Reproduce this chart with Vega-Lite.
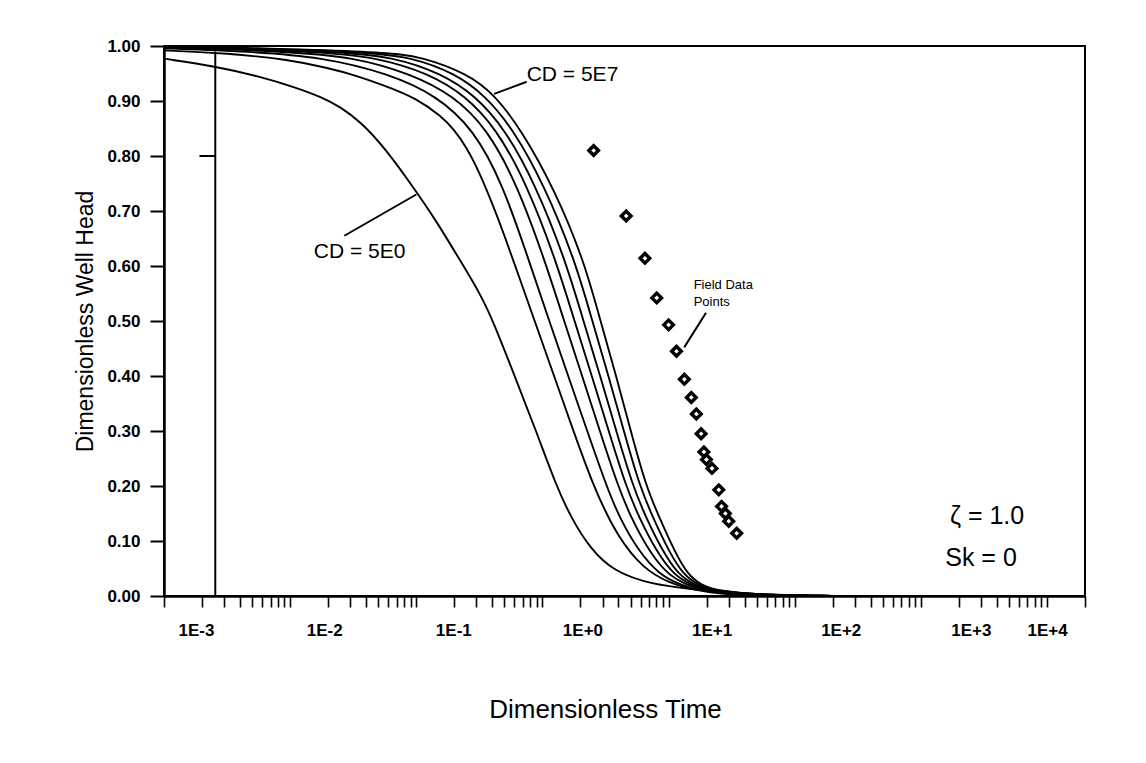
{
  "$schema": "https://vega.github.io/schema/vega-lite/v6.json",
  "width": 921,
  "height": 550,
  "autosize": {"type": "none"},
  "padding": {"left": 164, "top": 46, "right": 61, "bottom": 167},
  "background": "white",
  "config": {
    "view": {"stroke": "black", "strokeWidth": 2},
    "font": "Liberation Sans",
    "text": {"font": "Liberation Sans", "color": "black"}
  },
  "datasets": {
    "curves": [
      {"cd": "5E0", "t": 0.001, "h": 0.977}, {"cd": "5E0", "t": 0.00257, "h": 0.963}, {"cd": "5E0", "t": 0.005623, "h": 0.945}, {"cd": "5E0", "t": 0.01096, "h": 0.925}, {"cd": "5E0", "t": 0.01778, "h": 0.907}, {"cd": "5E0", "t": 0.02512, "h": 0.889}, {"cd": "5E0", "t": 0.03631, "h": 0.862}, {"cd": "5E0", "t": 0.05623, "h": 0.815}, {"cd": "5E0", "t": 0.0955, "h": 0.742}, {"cd": "5E0", "t": 0.1413, "h": 0.685}, {"cd": "5E0", "t": 0.2188, "h": 0.613}, {"cd": "5E0", "t": 0.3162, "h": 0.552}, {"cd": "5E0", "t": 0.3981, "h": 0.505}, {"cd": "5E0", "t": 0.6026, "h": 0.4}, {"cd": "5E0", "t": 0.8913, "h": 0.3}, {"cd": "5E0", "t": 1.288, "h": 0.2}, {"cd": "5E0", "t": 1.698, "h": 0.141}, {"cd": "5E0", "t": 2.399, "h": 0.086}, {"cd": "5E0", "t": 3.631, "h": 0.045}, {"cd": "5E0", "t": 7.499, "h": 0.02}, {"cd": "5E0", "t": 16.6, "h": 0.012}, {"cd": "5E0", "t": 33.88, "h": 0.003}, {"cd": "5E0", "t": 100, "h": 0},
      {"cd": "5E1", "t": 0.001, "h": 0.992}, {"cd": "5E1", "t": 0.003162, "h": 0.987}, {"cd": "5E1", "t": 0.01, "h": 0.975}, {"cd": "5E1", "t": 0.01995, "h": 0.96}, {"cd": "5E1", "t": 0.03162, "h": 0.948}, {"cd": "5E1", "t": 0.05623, "h": 0.928}, {"cd": "5E1", "t": 0.1, "h": 0.905}, {"cd": "5E1", "t": 0.1585, "h": 0.872}, {"cd": "5E1", "t": 0.1995, "h": 0.848}, {"cd": "5E1", "t": 0.2512, "h": 0.815}, {"cd": "5E1", "t": 0.3162, "h": 0.77}, {"cd": "5E1", "t": 0.3981, "h": 0.715}, {"cd": "5E1", "t": 0.5012, "h": 0.655}, {"cd": "5E1", "t": 0.631, "h": 0.59}, {"cd": "5E1", "t": 1, "h": 0.46}, {"cd": "5E1", "t": 1.585, "h": 0.33}, {"cd": "5E1", "t": 2.512, "h": 0.2}, {"cd": "5E1", "t": 3.981, "h": 0.105}, {"cd": "5E1", "t": 6.31, "h": 0.05}, {"cd": "5E1", "t": 10, "h": 0.024}, {"cd": "5E1", "t": 15.85, "h": 0.011}, {"cd": "5E1", "t": 25.12, "h": 0.004}, {"cd": "5E1", "t": 50.12, "h": 0.001}, {"cd": "5E1", "t": 125.9, "h": 0},
      {"cd": "5E2", "t": 0.001, "h": 0.996}, {"cd": "5E2", "t": 0.004786, "h": 0.99}, {"cd": "5E2", "t": 0.01778, "h": 0.98}, {"cd": "5E2", "t": 0.06026, "h": 0.95}, {"cd": "5E2", "t": 0.1445, "h": 0.91}, {"cd": "5E2", "t": 0.2818, "h": 0.85}, {"cd": "5E2", "t": 0.4831, "h": 0.75}, {"cd": "5E2", "t": 0.778, "h": 0.611}, {"cd": "5E2", "t": 1.132, "h": 0.5}, {"cd": "5E2", "t": 1.6, "h": 0.4}, {"cd": "5E2", "t": 2.265, "h": 0.3}, {"cd": "5E2", "t": 3.214, "h": 0.2}, {"cd": "5E2", "t": 4.102, "h": 0.141}, {"cd": "5E2", "t": 5.848, "h": 0.08}, {"cd": "5E2", "t": 8.356, "h": 0.04}, {"cd": "5E2", "t": 12.3, "h": 0.02}, {"cd": "5E2", "t": 19.95, "h": 0.008}, {"cd": "5E2", "t": 44.67, "h": 0.002}, {"cd": "5E2", "t": 199.5, "h": 0},
      {"cd": "5E3", "t": 0.001, "h": 0.998}, {"cd": "5E3", "t": 0.009772, "h": 0.99}, {"cd": "5E3", "t": 0.03162, "h": 0.98}, {"cd": "5E3", "t": 0.08913, "h": 0.95}, {"cd": "5E3", "t": 0.1972, "h": 0.91}, {"cd": "5E3", "t": 0.3631, "h": 0.85}, {"cd": "5E3", "t": 0.6252, "h": 0.75}, {"cd": "5E3", "t": 1.042, "h": 0.611}, {"cd": "5E3", "t": 1.486, "h": 0.5}, {"cd": "5E3", "t": 2.065, "h": 0.4}, {"cd": "5E3", "t": 2.851, "h": 0.3}, {"cd": "5E3", "t": 3.963, "h": 0.2}, {"cd": "5E3", "t": 5.07, "h": 0.141}, {"cd": "5E3", "t": 7.063, "h": 0.08}, {"cd": "5E3", "t": 9.727, "h": 0.04}, {"cd": "5E3", "t": 13.71, "h": 0.02}, {"cd": "5E3", "t": 21.88, "h": 0.008}, {"cd": "5E3", "t": 47.86, "h": 0.002}, {"cd": "5E3", "t": 199.5, "h": 0},
      {"cd": "5E4", "t": 0.001, "h": 0.999}, {"cd": "5E4", "t": 0.01622, "h": 0.99}, {"cd": "5E4", "t": 0.04786, "h": 0.98}, {"cd": "5E4", "t": 0.1259, "h": 0.95}, {"cd": "5E4", "t": 0.2438, "h": 0.91}, {"cd": "5E4", "t": 0.4305, "h": 0.85}, {"cd": "5E4", "t": 0.7482, "h": 0.75}, {"cd": "5E4", "t": 1.276, "h": 0.611}, {"cd": "5E4", "t": 1.795, "h": 0.5}, {"cd": "5E4", "t": 2.466, "h": 0.4}, {"cd": "5E4", "t": 3.35, "h": 0.3}, {"cd": "5E4", "t": 4.581, "h": 0.2}, {"cd": "5E4", "t": 5.875, "h": 0.141}, {"cd": "5E4", "t": 8.072, "h": 0.08}, {"cd": "5E4", "t": 10.84, "h": 0.04}, {"cd": "5E4", "t": 14.79, "h": 0.02}, {"cd": "5E4", "t": 22.91, "h": 0.008}, {"cd": "5E4", "t": 50.12, "h": 0.002}, {"cd": "5E4", "t": 199.5, "h": 0},
      {"cd": "5E5", "t": 0.001, "h": 1}, {"cd": "5E5", "t": 0.02455, "h": 0.99}, {"cd": "5E5", "t": 0.06607, "h": 0.98}, {"cd": "5E5", "t": 0.1585, "h": 0.95}, {"cd": "5E5", "t": 0.2924, "h": 0.91}, {"cd": "5E5", "t": 0.5012, "h": 0.85}, {"cd": "5E5", "t": 0.873, "h": 0.75}, {"cd": "5E5", "t": 1.521, "h": 0.611}, {"cd": "5E5", "t": 2.113, "h": 0.5}, {"cd": "5E5", "t": 2.871, "h": 0.4}, {"cd": "5E5", "t": 3.846, "h": 0.3}, {"cd": "5E5", "t": 5.2, "h": 0.2}, {"cd": "5E5", "t": 6.668, "h": 0.141}, {"cd": "5E5", "t": 9.036, "h": 0.08}, {"cd": "5E5", "t": 11.86, "h": 0.04}, {"cd": "5E5", "t": 15.74, "h": 0.02}, {"cd": "5E5", "t": 23.99, "h": 0.008}, {"cd": "5E5", "t": 52.48, "h": 0.002}, {"cd": "5E5", "t": 199.5, "h": 0},
      {"cd": "5E6", "t": 0.001, "h": 1}, {"cd": "5E6", "t": 0.03802, "h": 0.99}, {"cd": "5E6", "t": 0.0912, "h": 0.98}, {"cd": "5E6", "t": 0.2042, "h": 0.95}, {"cd": "5E6", "t": 0.3508, "h": 0.91}, {"cd": "5E6", "t": 0.5821, "h": 0.85}, {"cd": "5E6", "t": 1.019, "h": 0.75}, {"cd": "5E6", "t": 1.811, "h": 0.611}, {"cd": "5E6", "t": 2.483, "h": 0.5}, {"cd": "5E6", "t": 3.342, "h": 0.4}, {"cd": "5E6", "t": 4.416, "h": 0.3}, {"cd": "5E6", "t": 5.888, "h": 0.2}, {"cd": "5E6", "t": 7.568, "h": 0.141}, {"cd": "5E6", "t": 10.12, "h": 0.08}, {"cd": "5E6", "t": 13.0, "h": 0.04}, {"cd": "5E6", "t": 16.79, "h": 0.02}, {"cd": "5E6", "t": 25.12, "h": 0.008}, {"cd": "5E6", "t": 53.7, "h": 0.002}, {"cd": "5E6", "t": 199.5, "h": 0},
      {"cd": "5E7", "t": 0.001, "h": 1}, {"cd": "5E7", "t": 0.05623, "h": 0.99}, {"cd": "5E7", "t": 0.1122, "h": 0.98}, {"cd": "5E7", "t": 0.2512, "h": 0.95}, {"cd": "5E7", "t": 0.414, "h": 0.913}, {"cd": "5E7", "t": 0.6855, "h": 0.846}, {"cd": "5E7", "t": 1.242, "h": 0.74}, {"cd": "5E7", "t": 2.128, "h": 0.611}, {"cd": "5E7", "t": 2.884, "h": 0.5}, {"cd": "5E7", "t": 3.846, "h": 0.4}, {"cd": "5E7", "t": 5.012, "h": 0.3}, {"cd": "5E7", "t": 6.607, "h": 0.2}, {"cd": "5E7", "t": 8.511, "h": 0.141}, {"cd": "5E7", "t": 11.22, "h": 0.08}, {"cd": "5E7", "t": 14.13, "h": 0.04}, {"cd": "5E7", "t": 17.78, "h": 0.02}, {"cd": "5E7", "t": 26.3, "h": 0.008}, {"cd": "5E7", "t": 56.23, "h": 0.002}, {"cd": "5E7", "t": 199.5, "h": 0}
    ],
    "field": [
      {"t": 2.547, "h": 0.81}, {"t": 4.613, "h": 0.691}, {"t": 6.494, "h": 0.614}, {"t": 8.054, "h": 0.542}, {"t": 10, "h": 0.493}, {"t": 11.55, "h": 0.445}, {"t": 13.34, "h": 0.394}, {"t": 15.14, "h": 0.361}, {"t": 16.6, "h": 0.331}, {"t": 18.11, "h": 0.295}, {"t": 19.05, "h": 0.262}, {"t": 19.95, "h": 0.248}, {"t": 22.08, "h": 0.232}, {"t": 25.0, "h": 0.193}, {"t": 26.3, "h": 0.163}, {"t": 28.18, "h": 0.15}, {"t": 29.99, "h": 0.136}, {"t": 34.67, "h": 0.114}
    ],
    "rules": [
      {"t": 0.00255, "t2": 0.00255, "h": 0, "h2": 0.99},
      {"t": 0.00191, "t2": 0.00255, "h": 0.8, "h2": 0.8},
      {"t": 0.414, "t2": 0.75, "h": 0.913, "h2": 0.935},
      {"t": 0.0269, "t2": 0.1, "h": 0.655, "h2": 0.73},
      {"t": 19.8, "t2": 13.3, "h": 0.515, "h2": 0.452}
    ]
  },
  "encoding": {
    "x": {
      "field": "t", "type": "quantitative",
      "scale": {"type": "log", "domain": [0.001, 20000], "nice": false},
      "axis": {
        "title": "Dimensionless Time",
        "values": [0.001, 0.002, 0.003, 0.004, 0.005, 0.006, 0.007, 0.008, 0.009, 0.01, 0.02, 0.03, 0.04, 0.05, 0.06, 0.07, 0.08, 0.09, 0.1, 0.2, 0.3, 0.4, 0.5, 0.6, 0.7, 0.8, 0.9, 1, 2, 3, 4, 5, 6, 7, 8, 9, 10, 20, 30, 40, 50, 60, 70, 80, 90, 100, 200, 300, 400, 500, 600, 700, 800, 900, 1000, 2000, 3000, 4000, 5000, 6000, 7000, 8000, 9000, 10000, 20000],
        "labelExpr": "abs(log(datum.value)/LN10 - round(log(datum.value)/LN10)) < 0.001 ? '1E' + (round(log(datum.value)/LN10) >= 0 ? '+' : '') + round(log(datum.value)/LN10) : ''",
        "labelOffset": {"expr": "[32,34,37,40,43,46,50,0][round(log(datum.value)/LN10)+3]"},
        "labelOverlap": false,
        "labelBound": false,
        "labelFlush": false,
        "labelFont": "Liberation Sans",
        "labelFontSize": 17,
        "labelFontWeight": "bold",
        "labelColor": "black",
        "labelPadding": 15,
        "tickSize": 11,
        "tickWidth": 1.6,
        "tickColor": "black",
        "domainColor": "black",
        "domainWidth": 2.5,
        "grid": false,
        "titleFont": "Liberation Sans",
        "titleFontSize": 26,
        "titleFontWeight": "normal",
        "titleColor": "black",
        "titlePadding": 58,
        "titleAnchor": "middle",
        "titleX": 441
      }
    },
    "y": {
      "field": "h", "type": "quantitative",
      "scale": {"domain": [0, 1], "nice": false, "zero": false},
      "axis": {
        "title": "Dimensionless Well Head",
        "values": [0, 0.1, 0.2, 0.3, 0.4, 0.5, 0.6, 0.7, 0.8, 0.9, 1.0],
        "format": ".2f",
        "labelFont": "Liberation Sans",
        "labelFontSize": 17,
        "labelFontWeight": "bold",
        "labelColor": "black",
        "labelPadding": 10,
        "tickSize": 14,
        "tickWidth": 2,
        "tickColor": "black",
        "domainColor": "black",
        "domainWidth": 2.5,
        "grid": false,
        "titleFont": "Liberation Sans",
        "titleFontSize": 23,
        "titleFontWeight": "normal",
        "titleColor": "black",
        "titlePadding": 9
      }
    }
  },
  "layer": [
    {
      "data": {"name": "curves"},
      "mark": {"type": "line", "color": "black", "strokeWidth": 1.9, "interpolate": "basis", "clip": true},
      "encoding": {"detail": {"field": "cd", "type": "nominal"}}
    },
    {
      "data": {"name": "rules"},
      "mark": {"type": "rule", "color": "black", "strokeWidth": 2},
      "encoding": {
        "x2": {"field": "t2"},
        "y2": {"field": "h2"}
      }
    },
    {
      "data": {"name": "field"},
      "mark": {"type": "point", "shape": "diamond", "filled": true, "fill": "white", "stroke": "black", "strokeWidth": 3.4, "size": 92, "opacity": 1}
    },
    {
      "data": {"values": [{"t": 0.75, "h": 0.948, "txt": "CD = 5E7"}]},
      "mark": {"type": "text", "align": "left", "baseline": "middle", "fontSize": 21, "font": "Liberation Sans", "color": "black"},
      "encoding": {"text": {"field": "txt"}}
    },
    {
      "data": {"values": [{"t": 1700, "h": 0.145, "txt": "ζ = 1.0"}, {"t": 1560, "h": 0.07, "txt": "Sk = 0"}]},
      "mark": {"type": "text", "align": "left", "baseline": "middle", "fontSize": 25, "font": "Liberation Sans", "color": "black"},
      "encoding": {"text": {"field": "txt"}}
    },
    {
      "data": {"values": [{"t": 0.0355, "h": 0.625, "txt": "CD = 5E0"}]},
      "mark": {"type": "text", "align": "center", "baseline": "middle", "fontSize": 21, "font": "Liberation Sans", "color": "black"},
      "encoding": {"text": {"field": "txt"}}
    },
    {
      "data": {"values": [{"t": 15.8, "h": 0.565, "txt": "Field Data"}, {"t": 15.8, "h": 0.535, "txt": "Points"}]},
      "mark": {"type": "text", "align": "left", "baseline": "middle", "fontSize": 13, "font": "Liberation Sans", "color": "black"},
      "encoding": {"text": {"field": "txt"}}
    }
  ]
}
